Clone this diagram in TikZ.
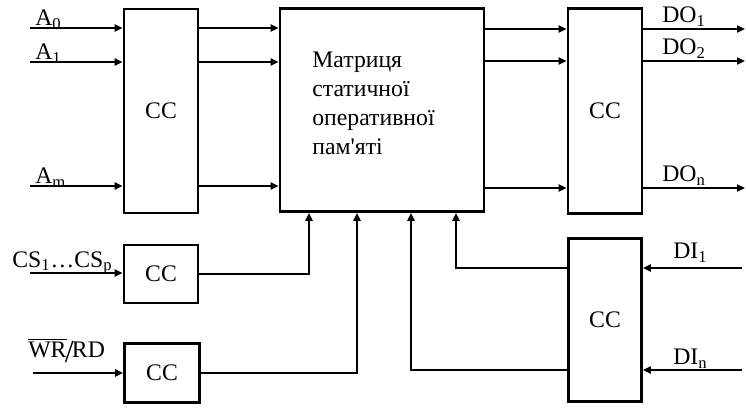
\documentclass[tikz,border=0pt]{standalone}
\usepackage{fontspec}
\setmainfont{Liberation Serif}
\usetikzlibrary{arrows.meta,positioning}

\begin{document}
\begin{tikzpicture}[x=0.02cm,y=0.02cm,font=\fontsize{13.5}{16.5}\selectfont,
    cc/.style={draw,line width=1.6pt,inner sep=0pt},
    sig/.style={line width=1pt,-{Triangle[length=4.5pt,width=4pt]}},
    lbl/.style={anchor=base west,inner sep=0pt}]
  \useasboundingbox (0,0) rectangle (746,407);
  % blocks
  \node[cc,minimum width=1.48cm,minimum height=4.08cm] (acc) at (161,296) {CC};
  \node[cc,minimum width=4.08cm,minimum height=4.06cm] (mat) at (382,297) {};
  \node[cc,minimum width=1.48cm,minimum height=4.1cm] (docc) at (605,296) {CC};
  \node[cc,minimum width=1.48cm,minimum height=1.16cm] (cscc) at (161,133) {CC};
  \node[cc,minimum width=1.5cm,minimum height=1.18cm] (wrcc) at (162,34) {CC};
  \node[cc,minimum width=1.46cm,minimum height=3.26cm] (dicc) at (605,87) {CC};
  \node[anchor=north west,align=left,inner sep=0pt] (mtxt) at (312,355)
    {Матриця\\статичної\\оперативної\\пам\textquotesingle яті};

  % address lines
  \foreach \n/\y in {0/379,1/345,m/221} {
    \coordinate (a\n) at (30,\y);
    \draw[sig] (a\n) -- (a\n -| acc.west);
    \draw[sig] (a\n -| acc.east) -- (a\n -| mat.west);
    \node[lbl,yshift=1.5pt] (la\n) at (35,\y) {A\textsubscript{\n}};
  }

  % data out
  \foreach \n/\y in {1/378,2/346,n/219} {
    \coordinate (do\n) at (745,\y);
    \draw[sig] (do\n -| mat.east) -- (do\n -| docc.west);
    \draw[sig] (do\n -| docc.east) -- (do\n);
    \node[lbl,yshift=3.5pt] (ldo\n) at (662,\y) {DO\textsubscript{\n}};
  }

  % chip select
  \coordinate (csin) at (30,134);
  \coordinate (b1) at (309,0);
  \draw[sig] (csin) -- (csin -| cscc.west);
  \draw[sig] (cscc.east) -| (b1 |- mat.south);
  \node[lbl] (lcs) at (12,140) {CS\textsubscript{1}\ldots CS\textsubscript{p}};

  % write / read
  \coordinate (wrin) at (33,34);
  \coordinate (b2) at (357,0);
  \draw[sig] (wrin) -- (wrin -| wrcc.west);
  \draw[sig] (wrcc.east) -| (b2 |- mat.south);
  \node[lbl] (lwr) at (28,50) {$\overline{\mbox{WR}}$\kern-1pt\raisebox{-3pt}{\scalebox{1.35}{/}}\kern-1pt RD};

  % data in
  \foreach \n/\y/\x/\s in {1/139/456/5.5pt,n/37/411/3pt} {
    \coordinate (di\n) at (742,\y);
    \coordinate (bx\n) at (\x,0);
    \draw[sig] (di\n) -- (di\n -| dicc.east);
    \draw[sig] (di\n -| dicc.west) -| (bx\n |- mat.south);
    \node[lbl,yshift=\s] (ldi\n) at (673,\y) {DI\textsubscript{\n}};
  }
\end{tikzpicture}
\end{document}
